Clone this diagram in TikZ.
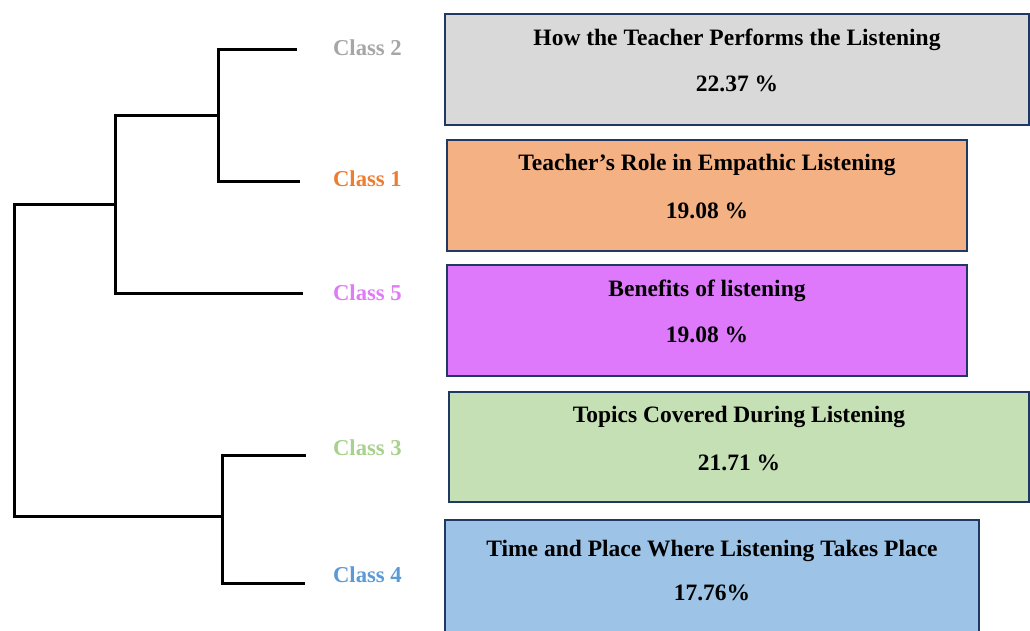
\documentclass[tikz,border=0pt]{standalone}
\usepackage{fontspec}
\setmainfont{Liberation Serif}
\definecolor{edge}{HTML}{1F3864}
\definecolor{fillA}{HTML}{D9D9D9}
\definecolor{fillB}{HTML}{F4B183}
\definecolor{fillC}{HTML}{DF79FB}
\definecolor{fillD}{HTML}{C5E0B4}
\definecolor{fillE}{HTML}{9DC3E6}
\definecolor{labA}{HTML}{A6A6A6}
\definecolor{labB}{HTML}{ED7D31}
\definecolor{labC}{HTML}{E07BF7}
\definecolor{labD}{HTML}{A9D18E}
\definecolor{labE}{HTML}{5B9BD5}
\begin{document}
\begin{tikzpicture}[x=1pt,y=-1pt,
  txt/.style={font=\fontsize{23.5}{28}\selectfont\bfseries, inner sep=0pt},
  classlbl/.style={font=\fontsize{22.7}{27}\selectfont\bfseries, inner sep=0pt, anchor=east},
  catbox/.style={draw=edge, line width=2pt, anchor=north west, inner sep=0pt},
  branch/.style={line width=3pt, line cap=rect, black}]
\useasboundingbox (0,0) rectangle (1030,630);

% category boxes
\node[catbox, fill=fillA, minimum width=584pt, minimum height=111pt] (bA) at (444,13) {};
\node[catbox, fill=fillB, minimum width=520pt, minimum height=111pt] (bB) at (446,139) {};
\node[catbox, fill=fillC, minimum width=520pt, minimum height=111pt] (bC) at (446,264) {};
\node[catbox, fill=fillD, minimum width=580pt, minimum height=110pt] (bD) at (448,391) {};
\node[catbox, fill=fillE, minimum width=534pt, minimum height=125pt] (bE) at (444,519) {};

% titles and shares
\node[txt] (tA) at ([yshift=-27pt]bA.north) {How the Teacher Performs the Listening};
\node[txt] (pA) at ([yshift=-71pt]bA.north) {22.37 \%};
\node[txt] (tB) at ([yshift=-26pt]bB.north) {Teacher’s Role in Empathic Listening};
\node[txt] (pB) at ([yshift=-72pt]bB.north) {19.08 \%};
\node[txt] (tC) at ([yshift=-27pt]bC.north) {Benefits of listening};
\node[txt] (pC) at ([yshift=-71pt]bC.north) {19.08 \%};
\node[txt] (tD) at ([yshift=-26pt]bD.north) {Topics Covered During Listening};
\node[txt] (pD) at ([yshift=-72pt]bD.north) {21.71 \%};
\node[txt] (tE) at ([yshift=-32pt]bE.north) {Time and Place Where Listening Takes Place};
\node[txt] (pE) at ([yshift=-74pt]bE.north) {17.76\%};

% class labels
\node[classlbl, text=labA] (c2) at (402,48) {Class 2};
\node[classlbl, text=labB] (c1) at (402,179) {Class 1};
\node[classlbl, text=labC] (c5) at (402,293) {Class 5};
\node[classlbl, text=labD] (c3) at (402,448) {Class 3};
\node[classlbl, text=labE] (c4) at (402,575) {Class 4};

% dendrogram leaves and joins
\coordinate (l2) at (295,49);
\coordinate (l1) at (298,181);
\coordinate (l5) at (301,293);
\coordinate (l3) at (304,455);
\coordinate (l4) at (303,583);
\coordinate (j21) at (218,115);
\coordinate (j215) at (115,204);
\coordinate (j34) at (222,516);
\coordinate (root) at (14,360);

\draw[branch] (l2) -| (j21 |- l2) -- (j21 |- l1) -- (l1);
\draw[branch] (j21) -| (j215 |- j21) -- (j215 |- l5) -- (l5);
\draw[branch] (l3) -| (j34 |- l3) -- (j34 |- l4) -- (l4);
\draw[branch] (j215) -| (root |- j215) -- (root |- j34) -- (j34);
\end{tikzpicture}
\end{document}
